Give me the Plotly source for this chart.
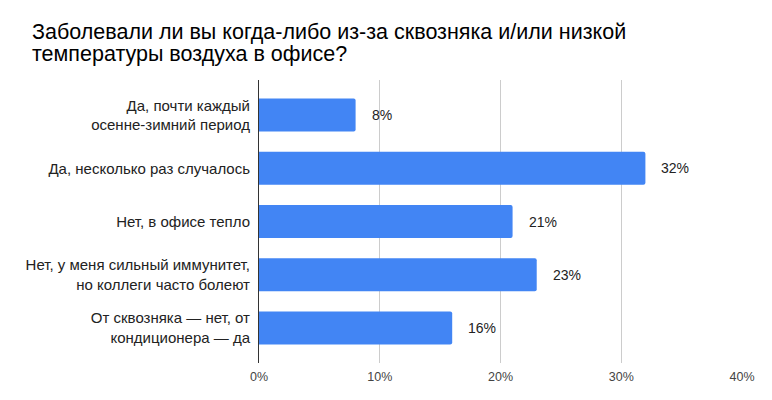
import plotly.graph_objects as go

categories = [
    "Да, почти каждый<br>осенне-зимний период",
    "Да, несколько раз случалось",
    "Нет, в офисе тепло",
    "Нет, у меня сильный иммунитет,<br>но коллеги часто болеют",
    "От сквозняка — нет, от<br>кондиционера — да",
]
values = [8, 32, 21, 23, 16]
x_ticks = [0, 10, 20, 30, 40]
x_tick_labels = ["0%", "10%", "20%", "30%", "40%"]
title_lines = [
    "Заболевали ли вы когда-либо из-за сквозняка и/или низкой",
    "температуры воздуха в офисе?",
]

FONT = "Arial, Liberation Sans, sans-serif"

W, H = 772, 400
ML, MR, MT, MB = 251, 38, 72, 45
PW, PH = W - ML - MR, H - MT - MB

fig = go.Figure()
fig.add_trace(go.Bar(
    y=categories,
    x=values,
    orientation="h",
    marker=dict(color="#4285F4", line=dict(width=0)),
    width=0.62,
    hoverinfo="skip",
))

for c, v in zip(categories, values):
    fig.add_annotation(
        x=v, y=c, xref="x", yref="y",
        text=f"{v}%", showarrow=False,
        xanchor="left", xshift=14,
        font=dict(family=FONT, size=14, color="#222222"),
    )

# Title as two tightly spaced lines
for line, mid_px in zip(title_lines, [24.3, 46.0]):
    fig.add_annotation(
        x=(22 - ML) / PW, y=(H - MB - mid_px) / PH,
        xref="paper", yref="paper",
        xanchor="left", yanchor="middle",
        text=line, showarrow=False,
        font=dict(family=FONT, size=21.5, color="#000000"),
    )

fig.update_layout(
    width=W, height=H,
    margin=dict(l=ML, r=MR, t=MT, b=MB),
    paper_bgcolor="white", plot_bgcolor="white",
    showlegend=False,
    barcornerradius=2,
    xaxis=dict(
        range=[0, 40],
        tickvals=x_ticks, ticktext=x_tick_labels,
        showgrid=True, gridcolor="#cccccc", gridwidth=1,
        zeroline=False, showline=False,
        ticks="", ticklabelstandoff=4,
        tickfont=dict(family=FONT, size=12.5, color="#444444"),
    ),
    yaxis=dict(
        type="category",
        range=[4.66, -0.66],
        showgrid=False, zeroline=False,
        showline=True, linecolor="#333333", linewidth=1,
        ticks="", ticklabelstandoff=5,
        tickfont=dict(family=FONT, size=15, color="#222222"),
    ),
)

fig.write_html("out.html")
